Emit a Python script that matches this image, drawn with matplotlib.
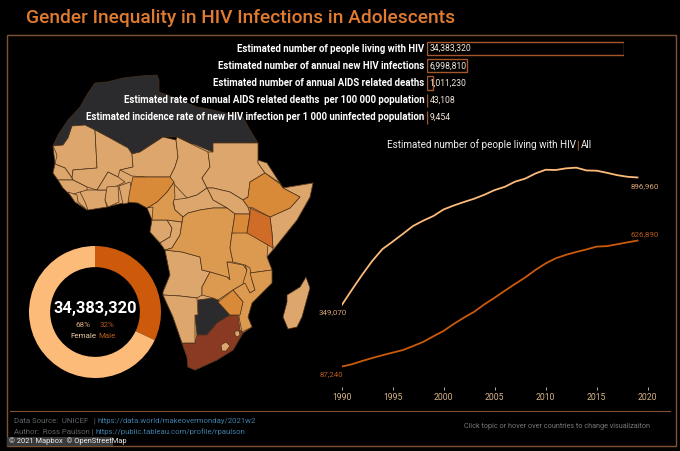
import matplotlib
matplotlib.use('Agg')
import matplotlib.pyplot as plt
from matplotlib.patches import Polygon, Rectangle

plt.rcParams['font.family'] = ['Roboto', 'DejaVu Sans']

# ---- data ----
measure_labels = [
    'Estimated number of people living with HIV',
    'Estimated number of annual new HIV infections',
    'Estimated number of annual AIDS related deaths',
    'Estimated rate of annual AIDS related deaths  per 100 000 population',
    'Estimated incidence rate of new HIV infection per 1 000 uninfected population',
]
measure_values = [34383320, 6998810, 1011230, 43108, 9454]

years = list(range(1990, 2020))
female = [349070, 415000, 479000, 539000, 590000, 622000, 655000, 689000, 712000, 732000,
          760000, 777000, 792000, 806000, 823000, 843000, 857000, 879000, 892000, 914000,
          930000, 929000, 936000, 939000, 927000, 926000, 917000, 907000, 900000, 896960]
male = [87240, 97000, 111000, 124000, 136000, 147000, 158000, 175000, 193000, 217000,
        240000, 270000, 297000, 322000, 354000, 382000, 412000, 441000, 469000, 501000,
        529000, 551000, 566000, 578000, 589000, 601000, 603000, 611000, 619000, 626890]
year_ticks = [1990, 1995, 2000, 2005, 2010, 2015, 2020]

donut_shares = [32, 68]

# map outlines, traced in picture pixels
mainland = [(53,146),(55,164),(53,173),(58,180),(63,188),(68,192),(75,202),(87,210),(107,207),(119,204),
            (128,202),(138,203),(147,208),(152,220),(150,232),(160,243),(165,250),(170,275),(163,292),
            (163,295),(173,317),(182,343),(187,357),(188,367),(195,370),(217,360),(233,350),(243,333),
            (252,327),(248,317),(252,303),(272,283),(272,270),(267,257),(273,250),(297,220),(310,197),
            (313,183),(283,188),(280,183),(258,160),(258,143)]
north_africa = [(53,146),(58,135),(68,120),(80,107),(88,93),(95,83),(107,82),(123,78),(140,76),(157,75),
                (159,80),(159,92),(167,95),(180,100),(197,107),(213,110),(233,115),(243,117),(250,130),
                (258,143),(213,143),(213,152),(208,150),(177,137),(163,137),(140,152),(132,154),(128,148),
                (110,138),(95,130),(85,125),(72,126),(68,138),(63,145)]
mauritania = [(53,146),(63,145),(68,138),(72,126),(85,125),(95,130),(97,168),(73,170),(72,178),(65,168),(55,164),(57,155)]
mali = [(95,130),(110,138),(128,148),(132,154),(133,167),(120,170),(118,177),(108,172),(102,182),(97,190),(87,187),(73,180),(72,178),(73,170),(97,168)]
niger = [(132,154),(140,152),(163,137),(176,140),(178,157),(175,167),(170,177),(147,177),(132,176),(120,170),(133,167)]
chad = [(176,140),(177,137),(208,152),(210,167),(202,178),(207,188),(197,195),(187,198),(173,183),(170,177),(175,167),(178,157)]
sudan = [(213,143),(258,143),(258,163),(265,173),(250,182),(248,197),(243,200),(230,192),(213,188),(207,188),(202,178),(210,167),(208,152),(213,152)]
eritrea = [(258,160),(267,163),(280,183),(265,173),(258,163)]
ethiopia = [(265,173),(280,184),(283,188),(300,197),(290,208),(270,217),(253,208),(248,207),(243,200),(248,197),(250,182)]
somalia = [(283,188),(313,183),(310,197),(297,220),(273,250),(272,233),(270,217),(290,208),(300,197)]
south_sudan = [(207,188),(213,188),(230,192),(243,200),(248,207),(250,214),(235,214),(227,208),(213,200)]
car = [(173,200),(187,198),(197,195),(207,188),(213,200),(227,208),(213,208),(200,210),(188,213),(183,217),(175,210)]
nigeria = [(133,177),(147,177),(170,177),(174,182),(167,192),(157,202),(147,208),(138,203),(128,202),(130,190)]
cameroon = [(174,182),(175,197),(173,203),(175,210),(183,217),(182,222),(167,220),(152,220),(153,207),(147,208),(157,202),(167,192)]
senegal = [(55,164),(65,168),(72,178),(73,180),(58,180),(53,173)]
guinea = [(58,180),(73,180),(87,187),(87,197),(80,192),(70,195),(63,188)]
liberia = [(68,192),(77,195),(78,202),(87,210),(75,202)]
ivory_coast = [(80,192),(87,190),(107,190),(105,200),(107,207),(88,210),(85,202)]
burkina = [(97,190),(102,182),(108,172),(118,177),(125,182),(115,187),(107,190)]
ghana = [(107,187),(118,186),(119,202),(108,207),(105,200)]
benin = [(119,186),(130,182),(132,190),(128,203),(123,204)]
gabon = [(152,220),(167,220),(172,228),(170,237),(160,243),(150,232)]
congo = [(167,220),(182,222),(180,235),(172,248),(165,250),(160,243),(170,237),(172,228)]
drc = [(183,217),(188,213),(200,210),(213,208),(227,208),(235,214),(232,233),(230,248),(233,262),(227,262),(230,278),(210,272),(202,270),(200,257),(182,252),(165,250),(172,248),(180,235)]
uganda = [(235,214),(250,214),(247,233),(232,233)]
kenya = [(250,208),(270,217),(272,233),(273,248),(268,245),(247,233),(250,214)]
tanzania = [(232,233),(248,232),(268,245),(267,257),(272,270),(250,273),(245,265),(233,262),(230,248)]
rwanda = [(228,235),(235,235),(235,245),(229,245)]
angola = [(165,250),(182,252),(200,257),(202,270),(210,272),(202,287),(202,295),(197,298),(180,296),(163,295),(163,292),(170,275)]
zambia = [(210,272),(227,277),(230,280),(227,262),(243,265),(247,270),(245,283),(233,290),(218,300),(213,298),(202,295),(202,287)]
malawi = [(245,265),(250,268),(252,280),(255,290),(250,293),(243,283),(247,270)]
mozambique = [(250,273),(272,270),(272,283),(252,303),(248,317),(252,327),(242,332),(239,317),(243,302),(233,290),(245,283),(250,293),(255,290),(252,280)]
zimbabwe = [(233,290),(243,302),(240,315),(230,315),(218,302)]
botswana = [(198,300),(213,298),(218,300),(230,315),(217,323),(207,335),(197,335),(195,315),(198,315)]
namibia = [(163,295),(180,296),(197,298),(198,315),(195,315),(195,343),(182,343),(173,317)]
south_africa = [(182,343),(195,343),(197,335),(207,335),(217,323),(230,315),(238,315),(240,330),(243,333),(233,350),(217,360),(195,370),(188,367),(187,357)]
lesotho = [(221,345),(226,342),(230,346),(226,351),(222,351)]
eswatini = [(235,331),(239,331),(240,335),(237,337),(235,335)]
madagascar = [(306,277),(310,288),(302,317),(297,327),(288,329),(283,317),(287,302),(287,295),(300,287)]

# ---- colours ----
BG = 'black'
FRAME = '#7f5233'
TITLE_ORANGE = '#e07b30'
FEMALE_C = '#fdbb7a'
MALE_C = '#cc5a0a'
TAN = '#dda66c'
MID = '#dc9a50'
DEEP = '#d98a38'
KENYA_C = '#cf6c28'
DARK = '#2b2b2d'
RSA = '#8a3a22'

country_colors = [
    (mainland, TAN), (north_africa, DARK), (botswana, DARK), (south_africa, RSA),
    (mauritania, TAN), (mali, TAN), (niger, TAN), (chad, TAN), (sudan, TAN), (eritrea, TAN),
    (somalia, TAN), (south_sudan, TAN), (car, TAN), (senegal, TAN), (guinea, TAN), (liberia, TAN),
    (ivory_coast, TAN), (burkina, TAN), (ghana, TAN), (benin, TAN), (gabon, TAN), (congo, TAN),
    (rwanda, TAN), (angola, TAN), (namibia, TAN), (madagascar, TAN), (lesotho, TAN), (eswatini, TAN),
    (cameroon, MID), (drc, MID), (zambia, MID), (tanzania, MID), (malawi, MID), (mozambique, MID),
    (ethiopia, DEEP), (nigeria, DEEP), (uganda, DEEP), (zimbabwe, DEEP), (kenya, KENYA_C),
]

W, H = 680, 451
fig = plt.figure(figsize=(W / 100, H / 100), dpi=100, facecolor=BG)


def px_axes(left, top, right, bottom):
    return fig.add_axes([left / W, 1 - bottom / H, (right - left) / W, (bottom - top) / H])


# base layer in picture pixels: frame, map, free text
base = px_axes(0, 0, W, H)
base.set_xlim(0, W)
base.set_ylim(H, 0)
base.axis('off')
base.set_facecolor(BG)

base.add_patch(Rectangle((6.5, 34.5), 669, 411.5, fill=False, ec=FRAME, lw=1))
base.plot([10, 670], [411, 411], color=FRAME, lw=0.8)

for outline, colour in country_colors:
    base.add_patch(Polygon(outline, closed=True, fc=colour, ec='#4a3018', lw=0.5, zorder=2))

base.text(26, 18, 'Gender Inequality in HIV Infections in Adolescents', color=TITLE_ORANGE,
          fontsize=13.75, fontweight='medium', va='center', ha='left')

# measures bars
bars = px_axes(427, 39.9, 623.6, 126.1)
bars.patch.set_alpha(0)
bars.barh(range(5), measure_values, height=0.76, fc='none', ec='#a5562a', lw=1)
bars.set_xlim(0, measure_values[0])
bars.set_ylim(4.5, -0.5)
bars.axis('off')
for i, (lab, val) in enumerate(zip(measure_labels, measure_values)):
    bars.annotate(lab, (0, i), xytext=(-2, 0), textcoords='offset points', ha='right', va='center',
                  color='white', fontsize=6.92, fontweight='bold', annotation_clip=False, zorder=5)
    bars.annotate(f'{val:,}', (0, i), xytext=(2, 0), textcoords='offset points', ha='left', va='center',
                  color='#f2e6da', fontsize=6.2, annotation_clip=False)

# trend lines
trend = px_axes(341.5, 153.4, 647.7, 387)
trend.patch.set_alpha(0)
trend.plot(years, female, color=FEMALE_C, lw=1.3)
trend.plot(years, male, color=MALE_C, lw=1.3)
trend.set_xlim(1990, 2020)
trend.set_ylim(0, 1000000)
for side in trend.spines.values():
    side.set_visible(False)
trend.set_yticks([])
trend.set_xticks(year_ticks)
trend.tick_params(axis='x', length=2.5, width=0.6, color='#cccccc', labelcolor='#d8b48a', labelsize=6.2, pad=2)
trend.annotate(f'{female[-1]:,}', (years[-1], female[-1]), xytext=(-5, -6), textcoords='offset points',
               color='#d8a878', fontsize=5.7, ha='left', va='center', annotation_clip=False)
trend.annotate(f'{male[-1]:,}', (years[-1], male[-1]), xytext=(-5, 4.5), textcoords='offset points',
               color='#b85a1c', fontsize=5.7, ha='left', va='center', annotation_clip=False)
trend.annotate(f'{female[0]:,}', (years[0], female[0]), xytext=(4, -5), textcoords='offset points',
               color='#d8a878', fontsize=5.7, ha='right', va='center', annotation_clip=False)
trend.annotate(f'{male[0]:,}', (years[0], male[0]), xytext=(1, -5.5), textcoords='offset points',
               color='#b85a1c', fontsize=5.7, ha='right', va='center', annotation_clip=False)

base.text(387, 145, 'Estimated number of people living with HIV', color='#eeeeee', fontsize=7.1, va='center')
base.text(576.5, 145, '|', color=TITLE_ORANGE, fontsize=7.1, va='center')
base.text(581, 145, 'All', color='#eeeeee', fontsize=7.1, va='center')

# donut
donut = px_axes(29, 246, 161, 378)
donut.patch.set_alpha(0)
donut.pie(donut_shares, colors=[MALE_C, FEMALE_C], startangle=90, counterclock=False, radius=1,
          wedgeprops={'width': 0.32, 'linewidth': 0})
donut.set_xlim(-1, 1)
donut.set_ylim(-1, 1)

base.text(95, 308, f'{measure_values[0]:,}', color='white', fontsize=11.8, fontweight='bold', ha='center', va='center')
base.text(83, 325, f'{donut_shares[1]}%', color='#d8a878', fontsize=5.8, ha='center', va='center')
base.text(107, 325, f'{donut_shares[0]}%', color='#b85a1c', fontsize=5.8, ha='center', va='center')
base.text(83, 336, 'Female', color='#e8c8a0', fontsize=5.8, ha='center', va='center')
base.text(107, 336, 'Male', color='#b85a1c', fontsize=5.8, ha='center', va='center')

# footer
base.text(14, 421, 'Data Source:  UNICEF   |', color='#5f6468', fontsize=5.6, va='center')
base.text(97, 421, 'https://data.world/makeovermonday/2021w2', color='#3f7ea6', fontsize=5.6, va='center')
base.text(14, 432, 'Author:  Ross Paulson |', color='#5f6468', fontsize=5.6, va='center')
base.text(96, 432, 'https://public.tableau.com/profile/rpaulson', color='#3f7ea6', fontsize=5.6, va='center')
base.text(464, 427, 'Click topic or hover over countries to change visualizaiton', color='#77787a', fontsize=5.2, va='center')
base.add_patch(Rectangle((7, 437), 106, 9, fc='#3a3a3a', ec='none', zorder=3))
base.text(9, 441.5, '© 2021 Mapbox  © OpenStreetMap', color='#f0f0f0', fontsize=5.4, va='center', zorder=4)

fig.savefig('out.png', dpi=100, facecolor=BG)
